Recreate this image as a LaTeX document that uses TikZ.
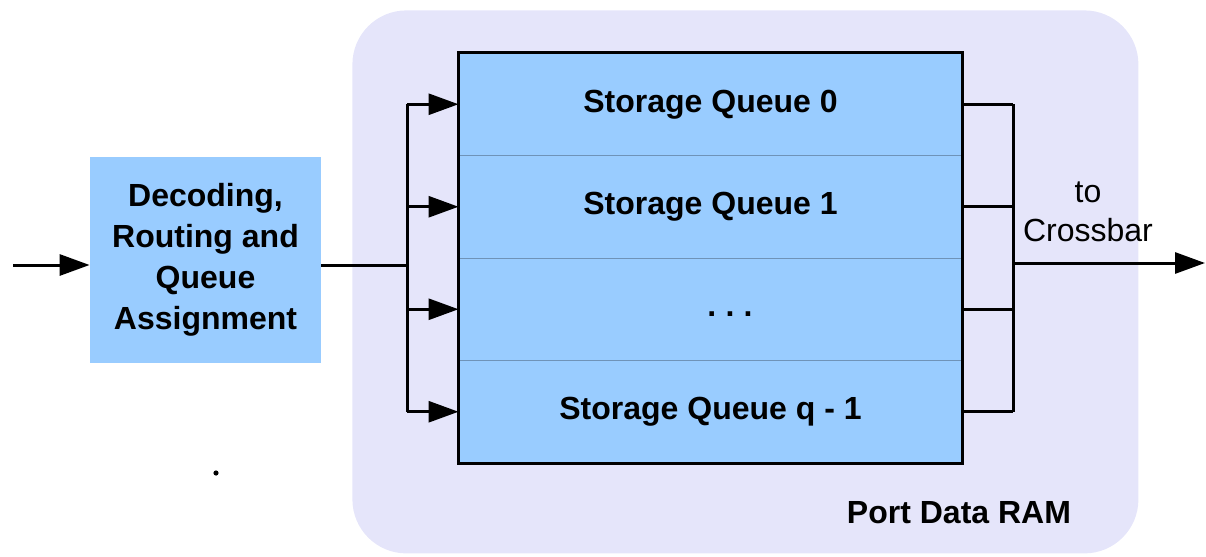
\documentclass[tikz,border=0pt]{standalone}
\usepackage{fontspec}
\setmainfont{Liberation Sans}
\usetikzlibrary{arrows.meta}
\definecolor{blockblue}{HTML}{99CCFF}
\definecolor{ramback}{HTML}{E5E5FA}
\definecolor{rowline}{HTML}{6F93B8}
\begin{document}
\begin{tikzpicture}[x=0.5pt,y=-0.5pt,
  wire/.style={line width=1.5pt},
  arr/.style={wire,-{Triangle[length=15pt,width=10.5pt]}},
  bold/.style={font=\bfseries\fontsize{16}{20.5}\selectfont,align=center},
  queuerow/.style={rectangle,fill=blockblue,draw=rowline,line width=0.5pt,
    minimum width=251.5pt,minimum height=51.25pt,inner sep=0pt,bold},
  blockbox/.style={rectangle,fill=blockblue,minimum width=115.5pt,
    minimum height=103pt,inner sep=0pt,bold},
  ramarea/.style={rectangle,fill=ramback,rounded corners=27pt,
    minimum width=393pt,minimum height=271.5pt,inner sep=0pt,anchor=north west}]
\useasboundingbox (0,0) rectangle (1206,557);

% RAM background
\node[ramarea] (ram) at (352,10) {};
\node[bold] (ramlabel) at (959,513) {Port Data RAM};

% decoder block
\node[blockbox] (dec) at (205.5,260)
  {Decoding,\\Routing and\\Queue\\Assignment};

% storage queues
\node[queuerow] (q0) at (710.5,104.25) {Storage Queue 0};
\node[queuerow] (q1) at (710.5,206.75) {Storage Queue 1};
\node[queuerow] (q2) at (710.5,309.25) {};
\node[queuerow] (q3) at (710.5,411.75) {Storage Queue q - 1};
\node[bold] (dots) at (730,314) {.\hspace{4.6pt}.\hspace{4.6pt}.};
\draw[line width=1.5pt] (q0.north west) rectangle (q3.south east);

% input side
\coordinate (in) at (13,265);
\coordinate (busL) at (407,265);
\draw[arr] (in) -- (in -| dec.west);
\draw[wire] (busL -| dec.east) -- (busL);
\draw[wire] (q0.west -| busL) -- (q3.west -| busL);
\foreach \q in {q0,q1,q2,q3}
  \draw[arr] (\q.west -| busL) -- (\q.west);

% output side
\coordinate (busR) at (1013,263);
\coordinate (out) at (1205,263);
\foreach \q in {q0,q1,q2,q3}
  \draw[wire] (\q.east) -- (\q.east -| busR);
\draw[wire] (q0.east -| busR) -- (q3.east -| busR);
\draw[arr] (busR) -- (out);
\node[font=\fontsize{16}{19.5}\selectfont,align=center] (xbar) at (1088,212)
  {to\\Crossbar};

% stray dot
\node[circle,fill=black,inner sep=0pt,minimum size=2.6pt] (dot) at (216,473) {};
\end{tikzpicture}
\end{document}
